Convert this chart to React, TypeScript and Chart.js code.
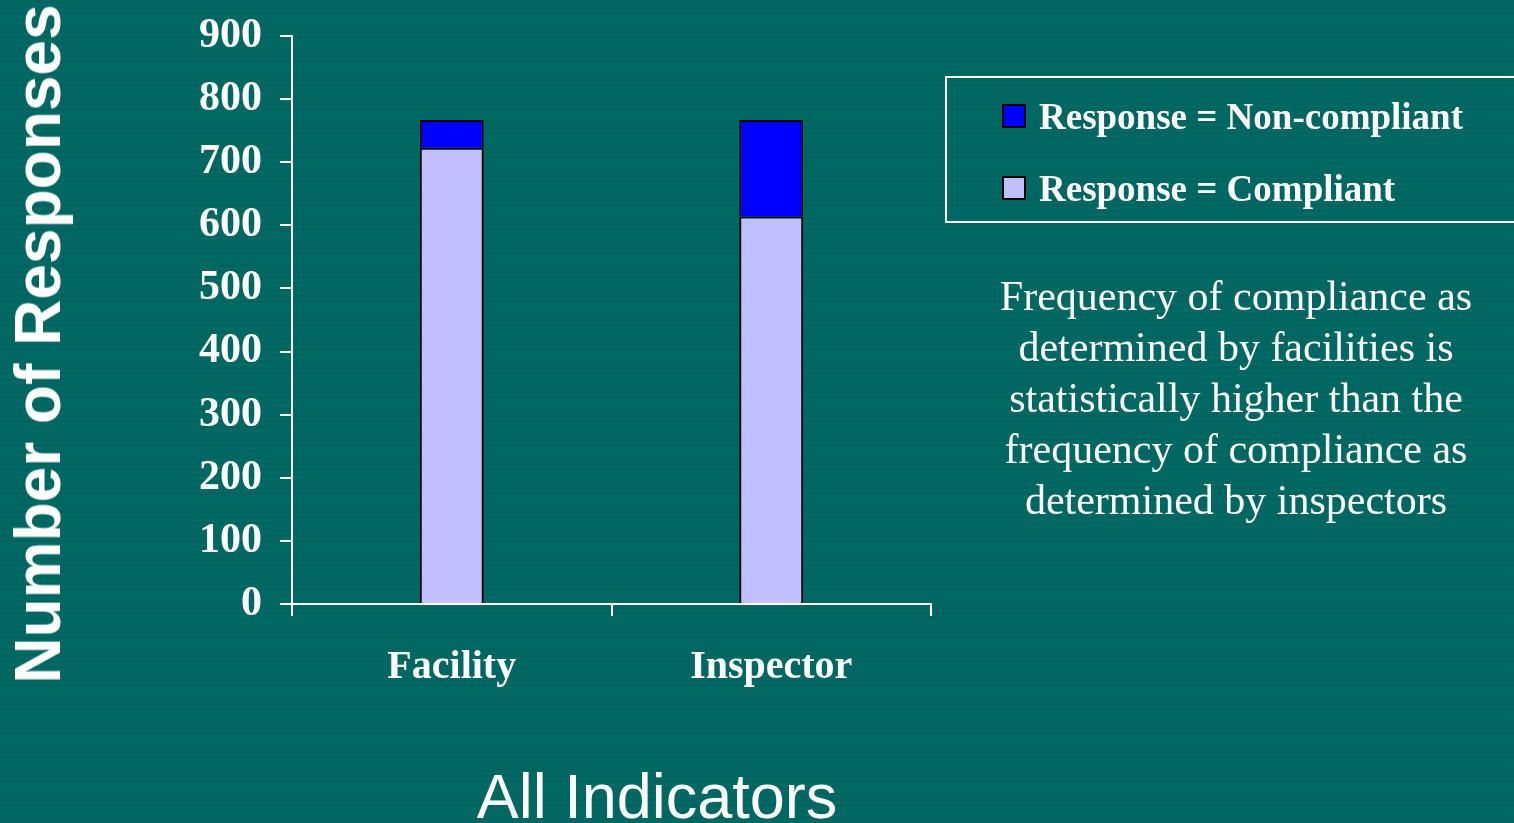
import React, { useEffect, useRef } from "react";
import { Chart, registerables } from "chart.js";

Chart.register(...registerables);

const categories = ["Facility", "Inspector"];
const compliantValues = [723, 614];
const nonCompliantValues = [44, 153];
const seriesLabels = ["Response = Compliant", "Response = Non-compliant"];
const seriesColors = ["#C0C0FF", "#0000FF"];
const yTickValues = [0, 100, 200, 300, 400, 500, 600, 700, 800, 900];
const yAxisTitle = "Number of Responses";
const chartTitle = "All Indicators";
const noteLines = [
  "Frequency of compliance as",
  "determined by facilities is",
  "statistically higher than the",
  "frequency of compliance as",
  "determined by inspectors",
];

const SERIF = "'Liberation Serif', 'Times New Roman', serif";
const SANS = "'Liberation Sans', Arial, sans-serif";

export default function App() {
  const canvasRef = useRef<HTMLCanvasElement | null>(null);

  useEffect(() => {
    if (!canvasRef.current) return;
    const chart = new Chart(canvasRef.current, {
      type: "bar",
      data: {
        labels: categories,
        datasets: [
          {
            label: seriesLabels[0],
            data: compliantValues,
            backgroundColor: seriesColors[0],
            borderColor: "#000000",
            borderWidth: 2,
            barPercentage: 0.2,
            categoryPercentage: 1.0,
          },
          {
            label: seriesLabels[1],
            data: nonCompliantValues,
            backgroundColor: seriesColors[1],
            borderColor: "#000000",
            borderWidth: 2,
            barPercentage: 0.2,
            categoryPercentage: 1.0,
          },
        ],
      },
      options: {
        responsive: false,
        animation: false,
        layout: { padding: { top: 36, right: 583, left: 0, bottom: 0 } },
        plugins: {
          legend: { display: false },
          tooltip: { enabled: false },
          title: { display: false },
        },
        scales: {
          x: {
            stacked: true,
            grid: {
              display: true,
              drawOnChartArea: false,
              drawTicks: true,
              tickLength: 12,
              color: "#ffffff",
              lineWidth: 2,
              offset: true,
            },
            border: { display: true, color: "#ffffff", width: 2 },
            ticks: {
              color: "#ffffff",
              font: { family: SERIF, size: 40, weight: "bold" },
              padding: 28,
            },
            afterFit: (s: any) => {
              s.height = 219;
              s.paddingLeft = 0;
              s.paddingRight = 0;
            },
          },
          y: {
            stacked: true,
            min: 0,
            max: 900,
            afterBuildTicks: (s: any) => {
              s.ticks = yTickValues.map((v) => ({ value: v }));
            },
            grid: {
              display: true,
              drawOnChartArea: false,
              drawTicks: true,
              tickLength: 12,
              color: "#ffffff",
              lineWidth: 2,
            },
            border: { display: true, color: "#ffffff", width: 2 },
            ticks: {
              color: "#ffffff",
              font: { family: SERIF, size: 42, weight: "bold" },
              padding: 18,
            },
            afterFit: (s: any) => {
              s.width = 292;
              s.paddingTop = 0;
              s.paddingBottom = 0;
            },
          },
        },
      },
    });
    return () => chart.destroy();
  }, []);

  const legendItems = [
    { label: seriesLabels[1], color: seriesColors[1] },
    { label: seriesLabels[0], color: seriesColors[0] },
  ];

  return (
    <div
      style={{
        position: "fixed",
        left: 0,
        top: 0,
        width: 1514,
        height: 823,
        overflow: "hidden",
        background: `repeating-linear-gradient(180deg, #00645f 0px, #00645f 3px, #006964 3px, #006964 6px)`,
      }}
    >
      <canvas
        ref={canvasRef}
        width={1514}
        height={823}
        style={{ position: "absolute", left: 0, top: 0, width: 1514, height: 823 }}
      />
      <div
        style={{
          position: "absolute",
          left: 38,
          top: 344,
          transform: "translate(-50%, -50%) rotate(-90deg)",
          whiteSpace: "nowrap",
          color: "#ffffff",
          fontFamily: SANS,
          fontWeight: "bold",
          fontSize: 64,
          lineHeight: 1,
        }}
      >
        {yAxisTitle}
      </div>
      <div
        style={{
          position: "absolute",
          left: 945,
          top: 76,
          width: 620,
          height: 143,
          border: "2px solid #ffffff",
          boxSizing: "content-box",
        }}
      />
      {legendItems.map((it, i) => (
        <div
          key={i}
          style={{
            position: "absolute",
            left: 1002,
            top: 116 + i * 72 - 25,
            height: 50,
            display: "flex",
            alignItems: "center",
            whiteSpace: "nowrap",
            color: "#ffffff",
            fontFamily: SERIF,
            fontWeight: "bold",
            fontSize: 37,
          }}
        >
          <span
            style={{
              display: "inline-block",
              width: 20,
              height: 20,
              background: it.color,
              border: "2px solid #000000",
              marginRight: 13,
            }}
          />
          <span>{it.label}</span>
        </div>
      ))}
      <div
        style={{
          position: "absolute",
          left: 1236 - 300,
          top: 271,
          width: 600,
          textAlign: "center",
          color: "#ffffff",
          fontFamily: SERIF,
          fontSize: 42,
          lineHeight: "51px",
        }}
      >
        {noteLines.map((l, i) => (
          <div key={i}>{l}</div>
        ))}
      </div>
      <div
        style={{
          position: "absolute",
          left: 657 - 300,
          top: 765,
          width: 600,
          textAlign: "center",
          color: "#ffffff",
          fontFamily: SANS,
          fontSize: 63,
          lineHeight: 1,
          whiteSpace: "nowrap",
        }}
      >
        {chartTitle}
      </div>
    </div>
  );
}
